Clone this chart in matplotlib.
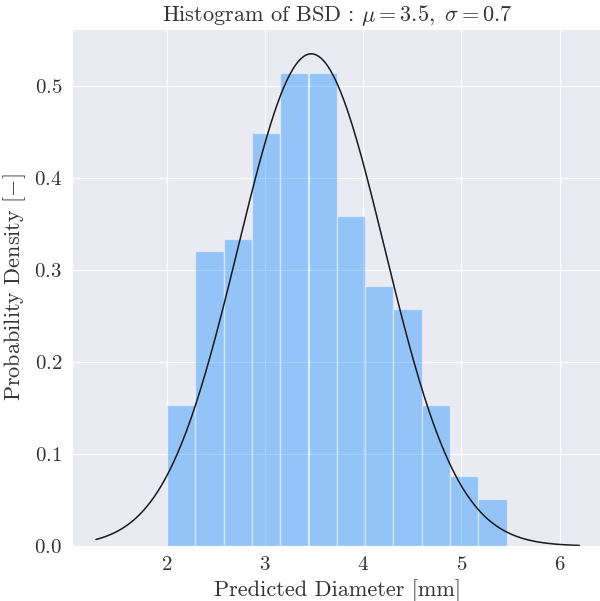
import numpy as np
import matplotlib
matplotlib.use('Agg')
import matplotlib.pyplot as plt
import seaborn as sns

sns.set_style('darkgrid')
plt.rcParams['font.family'] = 'serif'
plt.rcParams['font.serif'] = ['cmr10', 'DejaVu Serif']
plt.rcParams['mathtext.fontset'] = 'cm'
plt.rcParams['axes.unicode_minus'] = False
plt.rcParams['axes.formatter.use_mathtext'] = True

# histogram of predicted diameters (density)
bin_left = [2.000, 2.288, 2.577, 2.865, 3.153, 3.442, 3.730, 4.018, 4.307, 4.595, 4.883, 5.172]
bin_width = 0.2883
density = [0.153, 0.321, 0.334, 0.449, 0.514, 0.514, 0.359, 0.282, 0.257, 0.153, 0.076, 0.051]

# fitted normal distribution
mu = 3.47
sigma = 0.746
x_start, x_end = 1.276, 6.204

fig = plt.figure(figsize=(6, 6.01), dpi=100)
# axes runs a little past the right edge, like the cropped original
ax = fig.add_axes([0.1197, 0.0915, 0.8865, 0.8599])

ax.bar(bin_left, density, width=bin_width, align='edge',
       color='dodgerblue', alpha=0.42, edgecolor='white', linewidth=1)

x = np.linspace(x_start, x_end, 300)
pdf = np.exp(-0.5 * ((x - mu) / sigma) ** 2) / (sigma * np.sqrt(2 * np.pi))
ax.plot(x, pdf, color='#1a1a1a', linewidth=1.1)

ax.set_title(r'Histogram of BSD : $\mu=3.5,\ \sigma=0.7$', fontsize=16, color='#333333')
ax.set_xlabel('Predicted Diameter [mm]', fontsize=16, color='#333333')
ax.set_ylabel(r'Probability Density $[-]$', fontsize=16, color='#333333')
ax.tick_params(labelsize=15, colors='#333333')

fig.savefig('out.png', dpi=100)
